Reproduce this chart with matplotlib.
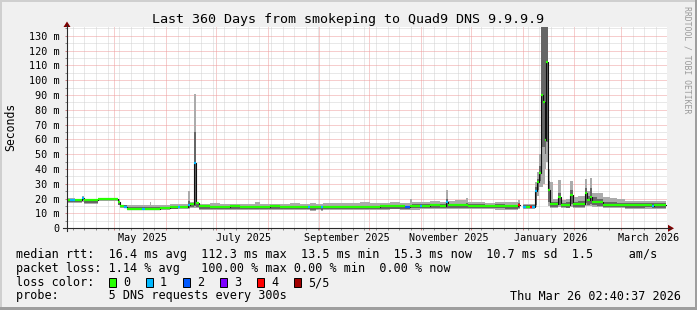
import matplotlib
matplotlib.use('Agg')
import matplotlib.pyplot as plt
from matplotlib.lines import Line2D
from matplotlib.patches import Rectangle, Polygon
from datetime import datetime, timedelta

W, H = 697, 310
START = datetime(2025, 4, 2, 14, 0)
SPAN = 360.0
END_DAY = 359.4
MONO = 'DejaVu Sans Mono'

# sample start, in days after START
days = [0.0, 1.8, 4.8, 9.0, 10.2, 14.4, 18.6, 24.6, 30.6, 31.8,
        34.2, 36.0, 40.8, 45.0, 46.8, 49.8, 50.4, 55.8, 61.8, 66.6,
        67.8, 72.6, 73.8, 76.2, 77.4, 79.2, 85.8, 91.8, 97.8, 103.8,
        109.8, 112.8, 115.8, 121.8, 127.8, 133.8, 139.8, 144.6, 145.8, 149.4,
        152.4, 153.6, 157.8, 163.8, 169.8, 175.8, 181.8, 187.8, 193.8, 199.8,
        202.8, 205.8, 207.0, 211.8, 213.0, 217.8, 223.8, 227.4, 228.6, 232.8,
        239.4, 240.6, 244.8, 250.8, 256.8, 262.8, 270.6, 271.8, 273.6, 275.4,
        277.8, 279.0, 280.8, 282.0, 283.2, 284.4, 285.6, 286.5, 287.4, 288.6,
        289.8, 291.6, 294.6, 296.4, 299.4, 301.5, 303.6, 306.6, 310.5, 312.0,
        313.5, 315.0, 318.0, 321.6, 325.8, 330.0, 331.2, 334.8, 340.8, 346.8,
        351.0, 352.2]

# median rtt in ms
median = [18.9, 18.9, 18.9, 20.6, 19.3, 19.2, 19.8, 19.9, 17.5, 15.0,
          14.6, 13.3, 13.2, 13.3, 13.2, 13.3, 13.3, 13.4, 14.6, 14.6,
          14.7, 15.5, 16.2, 44.0, 16.8, 14.8, 14.6, 14.7, 14.8, 14.7,
          14.6, 14.4, 14.7, 14.8, 14.6, 14.7, 14.5, 14.3, 14.2, 14.3,
          14.1, 14.4, 14.5, 14.6, 14.7, 14.6, 14.7, 14.8, 14.9, 14.8,
          14.6, 15.2, 15.3, 15.2, 15.3, 15.4, 15.3, 18.0, 15.5, 15.4,
          15.6, 15.2, 15.2, 15.0, 15.1, 15.0, 15.7, float('nan'), 14.6, 14.6,
          14.6, 14.5, 25.4, 31.5, 37.1, 90.0, 85.5, 59.6, 112.3, 25.9,
          16.4, 16.4, 21.4, 15.7, 16.0, 22.5, 16.4, 16.6, 24.0, 19.1,
          21.3, 18.0, 17.5, 16.0, 15.7, 15.5, 15.6, 15.5, 15.4, 15.5,
          15.3, 15.4]

# lost pings out of 5
loss = [0, 1, 0, 1, 0, 0, 0, 0, 0, 0,
        1, 0, 0, 1, 0, 0, 0, 0, 0, 1,
        0, 1, 0, 1, 0, 0, 0, 0, 0, 0,
        0, 0, 0, 0, 0, 0, 0, 1, 0, 0,
        1, 0, 0, 0, 0, 0, 0, 0, 0, 0,
        2, 0, 0, 1, 0, 0, 0, 1, 0, 0,
        0, 0, 0, 0, 0, 0, 4, 0, 1, 0,
        4, 1, 1, 0, 0, 0, 0, 0, 0, 0,
        0, 0, 0, 0, 0, 0, 0, 0, 0, 0,
        0, 0, 0, 0, 0, 0, 0, 0, 0, 0,
        1, 0]

nan = float('nan')
# smoke: fastest ping, 2nd ping, 4th ping, slowest ping (ms)
smoke_lo = [17.2, 17.2, 17.3, 18.0, 16.5, 16.4, 18.2, 18.4, 15.5, 13.8,
            13.5, 12.4, 12.3, 12.3, 12.4, 12.4, 12.4, 12.5, 12.8, 12.9,
            12.9, 13.2, 13.6, 14.0, 13.8, 12.6, 12.5, 12.5, 12.6, 12.5,
            12.4, 12.4, 12.5, 12.6, 12.5, 12.4, 12.4, 12.3, 12.0, 12.2,
            12.0, 12.2, 12.3, 12.4, 12.5, 12.4, 12.5, 12.6, 12.7, 12.6,
            12.4, 12.6, 12.6, 12.7, 12.7, 12.8, 12.7, 13.0, 12.8, 12.8,
            13.0, 13.2, 12.8, 12.7, 12.6, 12.6, 13.0, nan, 12.8, 12.8,
            12.8, 12.8, 14.5, 22.0, 28.0, 28.0, 30.0, 40.0, 45.0, 15.0,
            13.5, 13.5, 14.5, 13.5, 13.4, 14.5, 13.8, 13.8, 15.0, 14.8,
            15.0, 14.5, 14.3, 13.8, 13.6, 13.4, 13.4, 13.3, 13.2, 13.3,
            13.2, 13.2]
smoke_lo2 = [18.0, 18.0, 18.0, 18.8, 17.2, 17.0, 18.8, 19.0, 16.0, 14.2,
             14.0, 12.8, 12.7, 12.8, 12.8, 12.8, 12.8, 12.9, 13.3, 13.4,
             13.4, 13.8, 14.2, 15.0, 14.5, 13.2, 13.1, 13.2, 13.2, 13.1,
             13.0, 13.0, 13.1, 13.2, 13.1, 13.0, 13.0, 12.9, 12.6, 12.8,
             12.6, 12.8, 12.9, 13.0, 13.1, 13.0, 13.1, 13.2, 13.3, 13.2,
             13.0, 13.4, 13.5, 13.5, 13.5, 13.6, 13.5, 14.0, 13.6, 13.6,
             14.0, 13.8, 13.5, 13.4, 13.4, 13.3, 13.8, nan, 13.5, 13.5,
             13.5, 13.4, 15.5, 26.0, 32.0, 55.0, 55.0, 50.0, 58.0, 17.5,
             14.5, 14.2, 16.0, 14.2, 14.0, 16.5, 14.6, 14.6, 17.0, 16.0,
             16.5, 15.5, 15.2, 14.6, 14.4, 14.2, 14.2, 14.0, 14.0, 14.1,
             14.0, 14.0]
smoke_hi2 = [19.6, 19.6, 19.5, 21.0, 19.6, 19.5, 20.0, 20.1, 18.5, 15.5,
             15.4, 14.3, 14.2, 14.3, 14.2, 14.4, 14.3, 14.4, 15.2, 15.3,
             15.3, 18.6, 17.0, 65.0, 17.2, 15.4, 15.2, 15.3, 15.4, 15.3,
             15.2, 15.0, 15.2, 15.3, 15.2, 15.3, 15.1, 15.0, 15.0, 15.0,
             15.0, 15.2, 15.2, 15.2, 15.3, 15.2, 15.3, 15.4, 15.5, 15.4,
             15.2, 16.0, 16.3, 16.2, 16.2, 16.3, 16.2, 19.5, 16.6, 16.4,
             17.0, 16.2, 16.2, 16.0, 16.1, 16.0, 17.0, nan, 15.6, 15.6,
             15.6, 15.6, 28.0, 33.0, 42.0, 140.0, 140.0, 140.0, 140.0, 32.0,
             18.0, 17.5, 24.0, 17.2, 17.5, 26.0, 18.0, 18.5, 27.0, 22.0,
             27.0, 21.0, 20.0, 18.0, 17.5, 17.0, 17.2, 17.0, 16.8, 17.0,
             16.8, 16.8]
smoke_hi = [20.2, 20.2, 20.0, 21.6, 20.0, 20.0, 20.5, 20.6, 19.5, 16.0,
            16.0, 15.5, 15.6, 15.6, 15.6, 17.6, 15.6, 15.7, 16.4, 16.4,
            16.5, 25.3, 18.0, 91.0, 18.0, 16.3, 16.8, 16.2, 16.6, 16.3,
            16.5, 17.5, 16.3, 16.6, 16.4, 16.8, 16.3, 16.5, 17.0, 16.7,
            16.5, 17.0, 16.9, 17.2, 16.8, 17.6, 17.0, 17.3, 17.8, 17.0,
            16.8, 19.8, 17.6, 17.8, 17.8, 18.2, 17.8, 25.9, 18.6, 19.0,
            20.2, 18.0, 17.6, 17.4, 17.8, 17.5, 19.1, nan, 16.3, 16.3,
            16.4, 16.4, 31.5, 38.2, 50.0, 140.0, 140.0, 140.0, 140.0, 40.0,
            31.5, 19.5, 32.6, 19.0, 20.0, 32.0, 21.0, 21.5, 33.0, 25.0,
            33.7, 24.0, 23.5, 21.4, 20.5, 19.5, 19.8, 18.6, 18.2, 18.6,
            18.3, 18.3]

loss_colors = ['#26ff00', '#00b8ff', '#0059ff', '#7e00ff', '#ff0000', '#a10000']
loss_labels = ['0', '1', '2', '3', '4', '5/5']

month_starts = ['2025-05-01', '2025-06-01', '2025-07-01', '2025-08-01', '2025-09-01',
                '2025-10-01', '2025-11-01', '2025-12-01', '2026-01-01', '2026-02-01',
                '2026-03-01']
month_labels = ['May 2025', 'July 2025', 'September 2025', 'November 2025',
                'January 2026', 'March 2026']
label_months = ['2025-05-01', '2025-07-01', '2025-09-01', '2025-11-01',
                '2026-01-01', '2026-03-01']

legend_rows = [
    'median rtt:  16.4 ms avg  112.3 ms max  13.5 ms min  15.3 ms now  10.7 ms sd  1.5     am/s',
    'packet loss: 1.14 % avg   100.00 % max 0.00 % min  0.00 % now',
]


def day_of(s):
    return (datetime.strptime(s, '%Y-%m-%d') - START).total_seconds() / 86400.0


def fp(x, y):
    # pixel -> figure fraction
    return x / W, 1 - y / H


fig = plt.figure(figsize=(W / 100, H / 100), dpi=100, facecolor='#f0f0f0')
x0, y_top, x1, y_bot = 67, 27, 667, 228.3
ax = fig.add_axes([x0 / W, 1 - y_bot / H, (x1 - x0) / W, (y_bot - y_top) / H])
ax.set_facecolor('white')
ax.set_xlim(0, SPAN)
ax.set_ylim(0, 135.9)
for s in ax.spines.values():
    s.set_visible(False)

# grid
ax.set_yticks(range(0, 131, 10))
ax.set_yticks(range(5, 136, 10), minor=True)
ax.set_yticklabels(['0'] + ['%d m' % v for v in range(10, 131, 10)],
                   family=MONO, fontsize=7.3)
ax.set_xticks([day_of(m) for m in month_starts])
weeks = []
d = datetime(2025, 4, 6)
while d < START + timedelta(days=SPAN):
    weeks.append((d - START).total_seconds() / 86400.0)
    d += timedelta(days=7)
ax.set_xticks(weeks, minor=True)
ax.set_xticklabels([])
ax.grid(which='minor', color='#d2d2d2', lw=0.72, ls=(0, (1, 1)))
ax.grid(which='major', color='#ee9c9c', lw=0.72, ls=(0, (1, 1)))
ax.tick_params(which='both', direction='out', length=1.5, width=0.72,
               color='#8c8c8c', pad=3.6)
ax.tick_params(which='major', color='#d08080')
ax.set_axisbelow(True)

# smoke
ends = days[1:] + [END_DAY]
widths = [e - s for s, e in zip(days, ends)]
ax.bar(days, [h - l for h, l in zip(smoke_hi, smoke_lo)], bottom=smoke_lo,
       width=widths, align='edge', color='#ababab', linewidth=0, zorder=2)
ax.bar(days, [h - l for h, l in zip(smoke_hi2, smoke_lo2)], bottom=smoke_lo2,
       width=widths, align='edge', color='#666666', linewidth=0, zorder=3)

# median
ax.step(days + [END_DAY], median + [median[-1]], where='post',
        color='#101010', lw=0.8, zorder=4)
ax.hlines(median, days, ends, colors=[loss_colors[l] for l in loss],
          lw=1.6, zorder=5)

# month labels under the axis
for m, lab in zip(label_months, month_labels):
    ax.text(day_of(m) + 16.8, -0.063, lab, transform=ax.get_xaxis_transform(),
            ha='center', va='baseline', family=MONO, fontsize=7.3)

# axes with arrows
ax_col = '#2a2a2a'
fig.add_artist(Line2D(*zip(fp(63, 228.3), fp(670, 228.3)), color=ax_col, lw=0.8))
fig.add_artist(Line2D(*zip(fp(67, 231), fp(67, 25)), color=ax_col, lw=0.8))
fig.add_artist(Polygon([fp(63.5, 27), fp(70.5, 27), fp(67, 21.5)], closed=True,
                       color='#7f0000', lw=0))
fig.add_artist(Polygon([fp(668, 224.8), fp(668, 231.8), fp(674, 228.3)], closed=True,
                       color='#7f0000', lw=0))

# title, y label, watermark
fig.text(*fp(348, 23), 'Last 360 Days from smokeping to Quad9 DNS 9.9.9.9',
         ha='center', va='baseline', family=MONO, fontsize=9.6)
fig.text(*fp(11, 127), 'Seconds', rotation=90, ha='center', va='center',
         family=MONO, fontsize=8.3)
fig.text(*fp(687, 6), 'RRDTOOL / TOBI OETIKER', rotation=270, ha='center', va='top',
         family=MONO, fontsize=5.9, color='#9a9a9a')

# legend
fig.text(*fp(16, 258), legend_rows[0], ha='left', va='baseline', family=MONO, fontsize=8.45)
fig.text(*fp(16, 272), legend_rows[1], ha='left', va='baseline', family=MONO, fontsize=8.45)
fig.text(*fp(16, 286), 'loss color:', ha='left', va='baseline', family=MONO, fontsize=8.45)
for i, (c, lab) in enumerate(zip(loss_colors, loss_labels)):
    bx = 108.5 + i * 37
    r = Rectangle(fp(bx, 286.5), 7.5 / W, 9 / H, facecolor=c, edgecolor='black', lw=0.7)
    fig.add_artist(r)
    fig.text(*fp(bx + 14.5, 286), lab, ha='left', va='baseline', family=MONO, fontsize=8.45)
fig.text(*fp(16, 299.5), 'probe:       5 DNS requests every 300s', ha='left',
         va='baseline', family=MONO, fontsize=8.45)
fig.text(*fp(681, 299.5), 'Thu Mar 26 02:40:37 2026', ha='right', va='baseline',
         family=MONO, fontsize=8.45)

# 3d frame
fig.add_artist(Rectangle((0, 1 - 2 / H), 1, 2 / H, color='#cfcfcf', lw=0))
fig.add_artist(Rectangle((0, 0), 2 / W, 1, color='#cfcfcf', lw=0))
fig.add_artist(Rectangle((1 - 2 / W, 0), 2 / W, 1, color='#9e9e9e', lw=0))
fig.add_artist(Rectangle((0, 0), 1, 3 / H, color='#9e9e9e', lw=0))

fig.savefig('out.png', dpi=100, facecolor=fig.get_facecolor())
